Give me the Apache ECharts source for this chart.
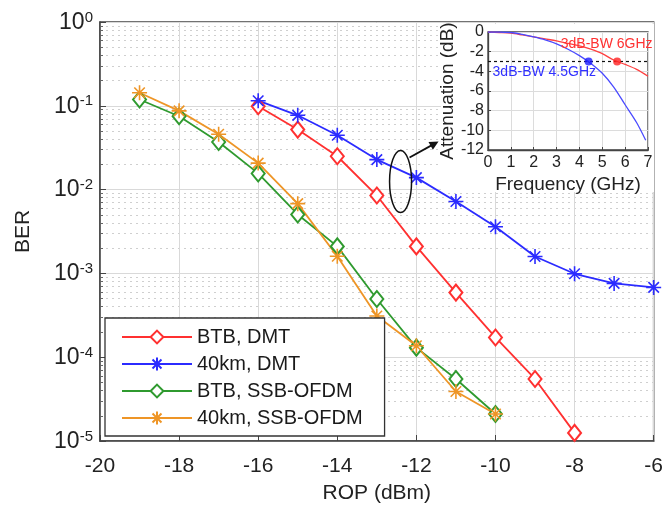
<!DOCTYPE html>
<html><head><meta charset="utf-8">
<script src="https://cdn.jsdelivr.net/npm/echarts@6/dist/echarts.min.js"></script>
<style>html,body{margin:0;padding:0;background:#fff}#c{width:666px;height:515px}</style>
</head><body><div id="c"></div>
<script>
// ---- main chart data ----
const seriesNames = ['BTB, DMT', '40km, DMT', 'BTB, SSB-OFDM', '40km, SSB-OFDM'];
const ropDmt = [-16, -15, -14, -13, -12, -11, -10, -9, -8];
const berBtbDmt = [0.099, 0.052, 0.025, 0.0085, 0.0021, 5.9e-4, 1.72e-4, 5.5e-5, 1.25e-5];
const rop40Dmt = [-16, -15, -14, -13, -12, -11, -10, -9, -8, -7, -6];
const ber40Dmt = [0.115, 0.077, 0.0445, 0.0228, 0.0139, 0.0072, 0.0036, 0.00159, 9.9e-4, 7.6e-4, 6.8e-4];
const ropOfdm = [-19, -18, -17, -16, -15, -14, -13, -12, -11, -10];
const berBtbOfdm = [0.119, 0.075, 0.037, 0.0156, 0.00505, 0.0021, 4.95e-4, 1.3e-4, 5.5e-5, 2.1e-5];
const ber40Ofdm = [0.143, 0.087, 0.0457, 0.0207, 0.0068, 0.0016, 3.1e-4, 1.37e-4, 3.9e-5, 2.1e-5];

// ---- inset data ----
const freqRed = [0, 0.5, 1, 1.5, 2, 2.5, 3, 3.5, 4, 4.5, 5, 5.5, 6, 6.5, 7];
const attRed = [0, -0.05, -0.12, -0.3, -0.5, -0.7, -0.9, -1.15, -1.4, -1.75, -2.2, -2.85, -3.3, -3.8, -4.5];
const freqBlue = [0, 0.5, 1, 1.5, 2, 2.5, 3, 3.5, 4, 4.5, 5, 5.5, 6, 6.5, 6.9];
const attBlue = [0, 0, -0.05, -0.25, -0.5, -0.8, -1.2, -1.75, -2.4, -3.2, -4.2, -5.6, -7.4, -9.2, -11];
const bwBlue = [4.4, -3];
const bwRed = [5.65, -3];
const bwLevel = -3;
const labelRed = '3dB-BW 6GHz';
const labelBlue = '3dB-BW 4.5GHz';

const FONT = 'Liberation Sans, Arial, Helvetica, sans-serif';
const C = { red: '#ff3030', blue: '#2b2bff', green: '#2f9a2f', orange: '#ee9526' };
const star = 'path://M0,-10L0,10M-10,0L10,0M-7,-7L7,7M-7,7L7,-7';

function pairs(xs, ys) { return xs.map((x, i) => [x, ys[i]]); }

const chart = echarts.init(document.getElementById('c'), null, { renderer: 'canvas' });

function lineSeries(name, xs, ys, color, sym) {
  const isStar = sym === 'star';
  return {
    name, type: 'line', xAxisIndex: 0, yAxisIndex: 0,
    data: pairs(xs, ys),
    symbol: isStar ? star : 'emptyDiamond',
    symbolSize: isStar ? 15 : [13, 16],
    showAllSymbol: true,
    lineStyle: { color, width: 1.8 },
    itemStyle: { color, borderColor: color, borderWidth: 1.6 },
    emphasis: { disabled: true },
    z: 5
  };
}

const option = {
  animation: false,
  backgroundColor: '#fff',
  textStyle: { fontFamily: FONT },
  grid: [
    { left: 100, right: 10, top: 22, bottom: 74, show: true, borderColor: '#444', borderWidth: 1.5 },
    { left: 488, width: 160, top: 32, height: 118, show: true, borderColor: '#444', borderWidth: 1.3, z: 3 }
  ],
  legend: {
    orient: 'vertical', left: 105, top: 318,
    data: seriesNames,
    itemWidth: 70, itemHeight: 16, itemGap: 7,
    padding: [9, 22, 8, 16],
    backgroundColor: '#fff', borderColor: '#333', borderWidth: 1.3,
    textStyle: { fontSize: 20, color: '#1a1a1a', fontFamily: FONT },
    z: 10
  },
  xAxis: [
    {
      type: 'value', gridIndex: 0, min: -20, max: -6, interval: 2,
      name: 'ROP (dBm)', nameLocation: 'middle', nameGap: 42,
      nameTextStyle: { fontSize: 21, color: '#222', fontFamily: FONT },
      axisLine: { show: true, onZero: false, lineStyle: { color: '#444', width: 1.5 } },
      axisTick: { inside: true, length: 6, lineStyle: { color: '#444' } },
      axisLabel: { fontSize: 21, color: '#222', margin: 15, fontFamily: FONT },
      splitLine: { show: true, lineStyle: { color: '#d9d9d9', width: 1 } }
    },
    {
      type: 'value', gridIndex: 1, min: 0, max: 7, interval: 1,
      name: 'Frequency (GHz)', nameLocation: 'middle', nameGap: 25,
      nameTextStyle: { fontSize: 19, color: '#222', fontFamily: FONT },
      axisLine: { show: true, onZero: false, lineStyle: { color: '#444', width: 1.3 } },
      axisTick: { inside: true, length: 3, lineStyle: { color: '#444' } },
      axisLabel: { fontSize: 16, color: '#222', margin: 5, fontFamily: FONT },
      splitLine: { show: true, lineStyle: { color: '#dcdcdc', width: 1 } },
      z: 3
    }
  ],
  yAxis: [
    {
      type: 'log', gridIndex: 0, min: 1e-5, max: 1, logBase: 10,
      name: 'BER', nameLocation: 'middle', nameGap: 66,
      nameTextStyle: { fontSize: 21, color: '#222', fontFamily: FONT },
      axisLine: { show: true, onZero: false, lineStyle: { color: '#444', width: 1.5 } },
      axisTick: { inside: true, length: 6, lineStyle: { color: '#444' } },
      minorTick: { show: true, splitNumber: 9, length: 3, lineStyle: { color: '#666' } },
      minorSplitLine: { show: true, lineStyle: { color: '#cfcfcf', type: [2, 4], width: 1 } },
      axisLabel: {
        margin: 7, fontFamily: FONT,
        formatter: v => '{b|10}{s|' + Math.round(Math.log10(v)) + '}',
        rich: {
          b: { fontSize: 23, color: '#222', lineHeight: 24, verticalAlign: 'bottom', fontFamily: FONT },
          s: { fontSize: 15, color: '#222', lineHeight: 15, verticalAlign: 'top', padding: [0, 0, 13, 0], fontFamily: FONT }
        }
      },
      splitLine: { show: true, lineStyle: { color: '#d9d9d9', width: 1 } }
    },
    {
      type: 'value', gridIndex: 1, min: -12, max: 0, interval: 2,
      name: 'Attenuation (dB)', nameLocation: 'middle', nameGap: 31,
      nameTextStyle: { fontSize: 19, color: '#222', fontFamily: FONT },
      axisLine: { show: true, onZero: false, lineStyle: { color: '#444', width: 1.3 } },
      axisTick: { inside: true, length: 3, lineStyle: { color: '#444' } },
      axisLabel: { fontSize: 16, color: '#222', margin: 4, fontFamily: FONT },
      splitLine: { show: true, lineStyle: { color: '#dcdcdc', width: 1 } },
      z: 3
    }
  ],
  series: [
    lineSeries(seriesNames[0], ropDmt, berBtbDmt, C.red, 'diamond'),
    lineSeries(seriesNames[1], rop40Dmt, ber40Dmt, C.blue, 'star'),
    lineSeries(seriesNames[2], ropOfdm, berBtbOfdm, C.green, 'diamond'),
    lineSeries(seriesNames[3], ropOfdm, ber40Ofdm, C.orange, 'star'),
    {
      name: 'insetRed', type: 'line', xAxisIndex: 1, yAxisIndex: 1, data: pairs(freqRed, attRed),
      symbol: 'none', smooth: 0.3, lineStyle: { color: '#ff4040', width: 1.3 }, z: 6,
      markLine: {
        silent: true, symbol: 'none', label: { show: false },
        lineStyle: { color: '#111', type: [3, 3], width: 1.2 },
        data: [{ yAxis: bwLevel }]
      }
    },
    {
      name: 'insetBlue', type: 'line', xAxisIndex: 1, yAxisIndex: 1, data: pairs(freqBlue, attBlue),
      symbol: 'none', smooth: 0.3, lineStyle: { color: '#4a4aff', width: 1.3 }, z: 6
    },
    {
      name: 'bwDots', type: 'scatter', xAxisIndex: 1, yAxisIndex: 1,
      data: [{ value: bwBlue, itemStyle: { color: '#1a1aff' } }, { value: bwRed, itemStyle: { color: '#ff2020' } }],
      symbolSize: 8, z: 7
    }
  ]
};
chart.setOption(option);

// annotation graphics, positioned through the axes
const ctr = chart.convertToPixel({ xAxisIndex: 0, yAxisIndex: 0 }, [-12.4, 0.0125]);
const tRed = chart.convertToPixel({ xAxisIndex: 1, yAxisIndex: 1 }, [7.2, -1.2]);
const tBlue = chart.convertToPixel({ xAxisIndex: 1, yAxisIndex: 1 }, [0.2, -4.1]);
const inTL = chart.convertToPixel({ xAxisIndex: 1, yAxisIndex: 1 }, [0, 0]);
const s = [ctr[0] + 9, ctr[1] - 24], e = [ctr[0] + 38, ctr[1] - 40];
const ang = Math.atan2(e[1] - s[1], e[0] - s[0]);
const ah = 9, aw = 4.5;
const p1 = [e[0] - ah * Math.cos(ang) + aw * Math.sin(ang), e[1] - ah * Math.sin(ang) - aw * Math.cos(ang)];
const p2 = [e[0] - ah * Math.cos(ang) - aw * Math.sin(ang), e[1] - ah * Math.sin(ang) + aw * Math.cos(ang)];
chart.setOption({
  graphic: [
    { type: 'rect', z: 1, shape: { x: inTL[0] - 47, y: 24, width: 654 - (inTL[0] - 47), height: 168 }, style: { fill: '#fff' }, silent: true },
    { type: 'ellipse', z: 8, shape: { cx: ctr[0], cy: ctr[1], rx: 11, ry: 31 }, style: { fill: 'none', stroke: '#111', lineWidth: 1.5 } },
    { type: 'line', z: 8, shape: { x1: s[0], y1: s[1], x2: e[0] - 5 * Math.cos(ang), y2: e[1] - 5 * Math.sin(ang) }, style: { stroke: '#111', lineWidth: 1.8 } },
    { type: 'polygon', z: 8, shape: { points: [e, p1, p2] }, style: { fill: '#111' } },
    { type: 'text', z: 9, x: tRed[0], y: tRed[1], style: { text: labelRed, fill: '#ff3030', fontSize: 14, fontFamily: FONT, align: 'right', verticalAlign: 'middle' } },
    { type: 'text', z: 9, x: tBlue[0], y: tBlue[1], style: { text: labelBlue, fill: '#3030ff', fontSize: 14, fontFamily: FONT, align: 'left', verticalAlign: 'middle' } }
  ]
});
</script>
</body></html>
